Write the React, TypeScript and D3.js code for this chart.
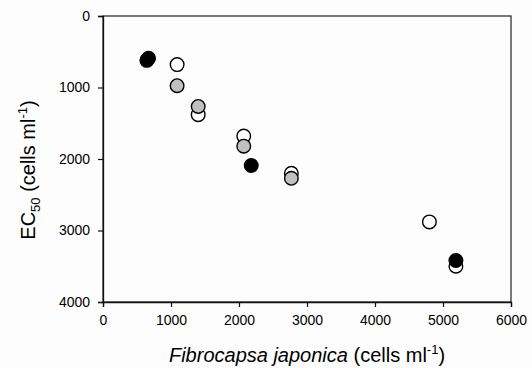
import React, { useEffect, useRef } from "react";
import * as d3 from "d3";

const openX = [1090, 1400, 2070, 2770, 4800, 5190];
const openY = [680, 1380, 1680, 2200, 2880, 3500];
const grayX = [1090, 1400, 2070, 2770];
const grayY = [975, 1265, 1820, 2270];
const blackX = [645, 670, 2180, 5190];
const blackY = [620, 590, 2090, 3420];
const xTicks = [0, 1000, 2000, 3000, 4000, 5000, 6000];
const yTicks = [0, 1000, 2000, 3000, 4000];

const W = 532, H = 368;
const L = 103, R = 511, T = 16, B = 302;

export default function App() {
  const ref = useRef<SVGSVGElement>(null);
  useEffect(() => {
    const svg = d3.select(ref.current);
    svg.selectAll("*").remove();
    const x = d3.scaleLinear().domain([0, 6000]).range([L, R]);
    const y = d3.scaleLinear().domain([0, 4000]).range([T, B]);
    const font = "Liberation Sans, Arial, sans-serif";

    svg.append("rect").attr("width", W).attr("height", H).attr("fill", "#fdfdfd");

    // frame
    svg.append("rect").attr("x", L).attr("y", T).attr("width", R - L).attr("height", B - T)
      .attr("fill", "none").attr("stroke", "#333").attr("stroke-width", 1.3);

    const gx = svg.append("g").attr("transform", `translate(0,${B})`)
      .call(d3.axisBottom(x).tickValues(xTicks).tickSize(5).tickFormat(d3.format("d")));
    const gy = svg.append("g").attr("transform", `translate(${L},0)`)
      .call(d3.axisLeft(y).tickValues(yTicks).tickSize(5).tickFormat(d3.format("d")));
    for (const g of [gx, gy]) {
      g.select(".domain").attr("stroke", "#111").attr("stroke-width", 1.3);
      g.selectAll(".tick line").attr("stroke", "#111").attr("stroke-width", 1.2);
      g.selectAll(".tick text").attr("font-family", font).attr("font-size", 14).attr("fill", "#000");
    }
    gx.selectAll(".tick text").attr("dy", "1.1em");
    gy.selectAll(".tick text").attr("dx", "-0.35em");

    const drawSeries = (xs: number[], ys: number[], fill: string) => {
      svg.append("g").selectAll("circle").data(xs.map((v, i) => [v, ys[i]]))
        .join("circle")
        .attr("cx", d => x(d[0])).attr("cy", d => y(d[1])).attr("r", 6.8)
        .attr("fill", fill).attr("stroke", "#000").attr("stroke-width", 1.4);
    };
    drawSeries(openX, openY, "#ffffff");
    drawSeries(grayX, grayY, "#c0c0c0");
    drawSeries(blackX, blackY, "#000000");

    // x title
    const xt = svg.append("text").attr("x", (L + R) / 2).attr("y", 362)
      .attr("text-anchor", "middle").attr("font-family", font).attr("font-size", 20).attr("fill", "#000");
    xt.append("tspan").attr("font-style", "italic").text("Fibrocapsa japonica");
    xt.append("tspan").text(" (cells ml");
    xt.append("tspan").attr("font-size", 13).attr("dy", -8).text("-1");
    xt.append("tspan").attr("dy", 8).text(")");

    // y title
    const yt = svg.append("text").attr("transform", `translate(35,170) rotate(-90)`)
      .attr("text-anchor", "middle").attr("font-family", font).attr("font-size", 20).attr("fill", "#000");
    yt.append("tspan").text("EC");
    yt.append("tspan").attr("font-size", 13).attr("dy", 5).text("50");
    yt.append("tspan").attr("dy", -5).text(" (cells ml");
    yt.append("tspan").attr("font-size", 13).attr("dy", -8).text("-1");
    yt.append("tspan").attr("dy", 8).text(")");
  }, []);
  return (
    <svg ref={ref} width={W} height={H} style={{ position: "absolute", left: 0, top: 0 }} />
  );
}
